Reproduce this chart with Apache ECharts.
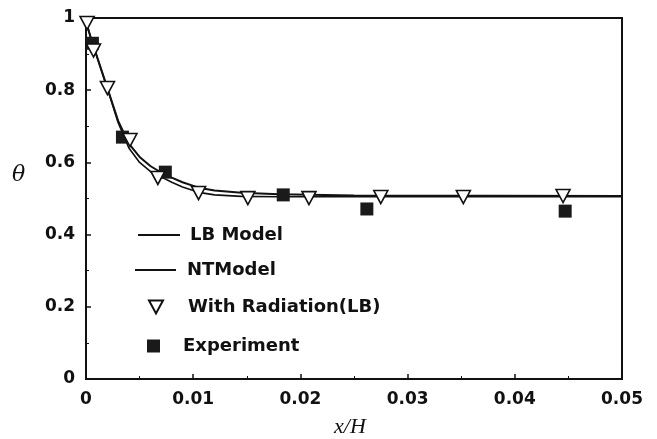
<!DOCTYPE html>
<html><head><meta charset="utf-8">
<script src="https://cdn.jsdelivr.net/npm/echarts@6/dist/echarts.min.js"></script>
<style>html,body{margin:0;padding:0;background:#fff}#c{width:657px;height:439px}</style>
</head><body><div id="c"></div>
<script>
const lbModel = [[0,0.99],[0.0005,0.94],[0.001,0.895],[0.002,0.805],[0.003,0.715],[0.004,0.652],[0.005,0.615],[0.006,0.59],[0.007,0.572],[0.008,0.558],[0.009,0.545],[0.0105,0.53],[0.012,0.522],[0.0145,0.516],[0.018,0.512],[0.025,0.508],[0.05,0.507]];
const ntModel = [[0,0.99],[0.0005,0.94],[0.001,0.895],[0.002,0.805],[0.003,0.71],[0.004,0.64],[0.005,0.6],[0.006,0.575],[0.007,0.56],[0.008,0.545],[0.009,0.532],[0.0105,0.517],[0.012,0.51],[0.0145,0.506],[0.018,0.505],[0.025,0.505],[0.05,0.505]];
const withRadiation = [[0.0001,0.986],[0.0007,0.91],[0.002,0.806],[0.0041,0.662],[0.0067,0.557],[0.0105,0.515],[0.0151,0.501],[0.0208,0.501],[0.0275,0.504],[0.0352,0.504],[0.0445,0.507]];
const experiment = [[0.0006,0.93],[0.0034,0.67],[0.0074,0.573],[0.0184,0.51],[0.0262,0.471],[0.0447,0.465]];
const seriesNames = ['LB Model','NTModel','With Radiation(LB)','Experiment'];
const xTicks = {min:0, max:0.05, interval:0.01};
const yTicks = {min:0, max:1, interval:0.2};

const chart = echarts.init(document.getElementById('c'));
const ink = '#111';
const FONT = 'DejaVu Sans';
const axisCommon = {
  axisLine:{show:true, lineStyle:{color:ink, width:2}},
  axisTick:{show:true, inside:true, length:5, lineStyle:{color:ink, width:1.5}},
  minorTick:{show:true, splitNumber:2, length:3, lineStyle:{color:ink}},
  splitLine:{show:false}
};
const labelStyle = {color:ink, fontFamily:FONT, fontWeight:'bold', fontSize:17};
const legendText = {color:ink, fontFamily:FONT, fontWeight:'bold', fontSize:18};
function legendAt(name, left, top, w, h, icon, pad){
  return {orient:'vertical', left:left, top:top, itemWidth:w, itemHeight:h, padding:0,
    data:[{name:name, icon:icon}], selectedMode:false,
    textStyle:Object.assign({padding:[0,0,0,pad]}, legendText)};
}
chart.setOption({
  animation:false,
  backgroundColor:'#fff',
  grid:{left:86, right:35, top:18, bottom:60, show:true, borderColor:ink, borderWidth:2, backgroundColor:'transparent'},
  xAxis:Object.assign({type:'value', min:xTicks.min, max:xTicks.max, interval:xTicks.interval}, axisCommon,
    {axisLabel:Object.assign({margin:12}, labelStyle)}),
  yAxis:Object.assign({type:'value', min:yTicks.min, max:yTicks.max, interval:yTicks.interval}, axisCommon,
    {axisLabel:Object.assign({margin:11}, labelStyle)}),
  legend:[
    legendAt(seriesNames[0], 138, 226, 42, 2, 'rect', 5),
    legendAt(seriesNames[1], 135, 261, 41, 2, 'rect', 6),
    legendAt(seriesNames[2], 148, 298, 14, 13, 'path://M0,0 L14,0 L7,13 Z', 20),
    legendAt(seriesNames[3], 147, 337, 13, 13, 'rect', 18)
  ],
  graphic:[
    {type:'text', left:12, top:164, style:{text:'θ', font:'italic 22px "DejaVu Serif"', fill:ink}},
    {type:'text', left:334, top:416, style:{text:'x/H', font:'italic 22px "Liberation Serif"', fill:ink}}
  ],
  series:[
    {name:seriesNames[0], type:'line', data:lbModel, symbol:'none', lineStyle:{color:ink, width:2}, itemStyle:{color:ink}, z:2},
    {name:seriesNames[1], type:'line', data:ntModel, symbol:'none', lineStyle:{color:ink, width:1.6}, itemStyle:{color:ink}, z:2},
    {name:seriesNames[2], type:'scatter', data:withRadiation, symbol:'triangle', symbolRotate:180, symbolSize:[14,13],
     itemStyle:{color:'#fff', borderColor:ink, borderWidth:1.6, opacity:1}, z:4},
    {name:seriesNames[3], type:'scatter', data:experiment, symbol:'rect', symbolSize:13,
     itemStyle:{color:'#1a1a1a', opacity:1}, z:3}
  ]
});
</script></body></html>
